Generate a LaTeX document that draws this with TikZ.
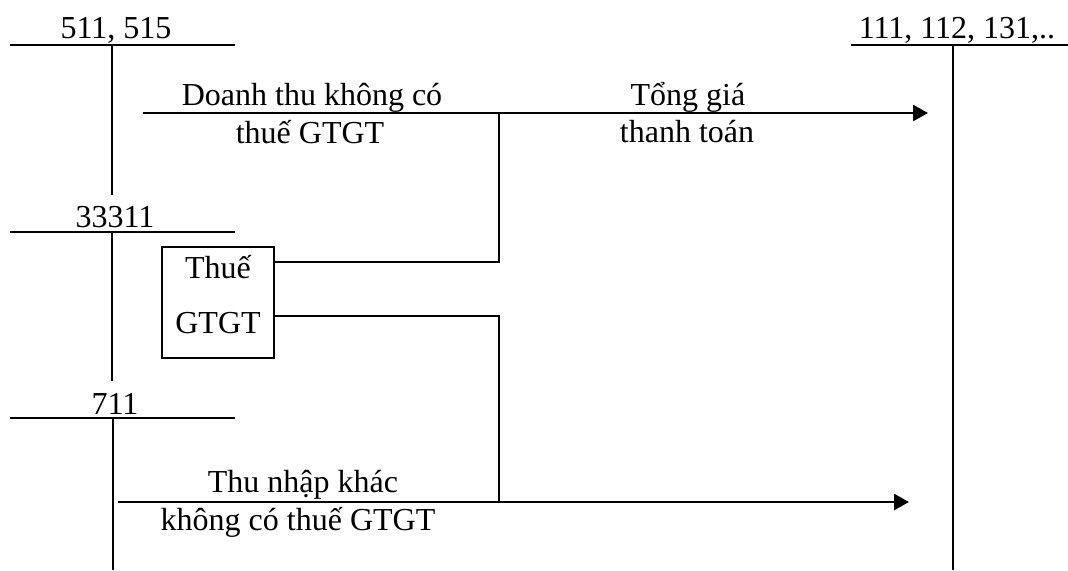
\documentclass[tikz,border=0pt]{standalone}
\usepackage{fontspec}
\setmainfont{Liberation Serif}
\usetikzlibrary{arrows.meta}
\tikzset{
  txt/.style={anchor=base, inner sep=0pt, font=\fontsize{16}{19}\selectfont},
  acct/.style={line width=1pt},
  conn/.style={line width=1pt},
  flow/.style={line width=1.3pt, -{Triangle[length=7.5pt,width=8pt]}},
  taxbox/.style={draw, line width=1pt, minimum width=56pt, minimum height=55.5pt, inner sep=0pt}
}
\begin{document}
\begin{tikzpicture}[x=0.5pt,y=-0.5pt]
\useasboundingbox (0,0) rectangle (1068,570);
% account 511, 515
\coordinate (a1L) at (10,45); \coordinate (a1R) at (235,45);
\coordinate (a1T) at (112,45); \coordinate (a1B) at (112,195);
\draw[acct] (a1L) -- (a1R); \draw[acct] (a1T) -- (a1B);
\node[txt] (l1) at (116,38) {511, 515};
% account 111, 112, 131
\coordinate (a2L) at (851,45); \coordinate (a2R) at (1068,45);
\coordinate (a2T) at (953,45); \coordinate (a2B) at (953,570);
\draw[acct] (a2L) -- (a2R); \draw[acct] (a2T) -- (a2B);
\node[txt] (l2) at (957,38) {111, 112, 131,..};
% account 33311
\coordinate (a3L) at (10,232); \coordinate (a3R) at (235,232);
\coordinate (a3T) at (112,232); \coordinate (a3B) at (112,381);
\draw[acct] (a3L) -- (a3R); \draw[acct] (a3T) -- (a3B);
\node[txt] (l3) at (115,227) {33311};
% account 711
\coordinate (a4L) at (10,418); \coordinate (a4R) at (235,418);
\coordinate (a4T) at (113,418); \coordinate (a4B) at (113,570);
\draw[acct] (a4L) -- (a4R); \draw[acct] (a4T) -- (a4B);
\node[txt] (l4) at (115,414) {711};
% tax box
\node[taxbox] (box) at (218,302.5) {};
\node[txt] (t1) at (218,278) {Thuế};
\node[txt] (t2) at (218,333) {GTGT};
% flows
\coordinate (s1) at (143,113); \coordinate (e1) at (928,113);
\coordinate (s2) at (118,502); \coordinate (e2) at (909,502);
\coordinate (j1) at (499,113); \coordinate (j2) at (499,502);
\coordinate (b1) at (274,262); \coordinate (b2) at (274,316);
\draw[flow] (s1) -- (e1);
\draw[flow] (s2) -- (e2);
\draw[conn] (b1) -| (j1);
\draw[conn] (b2) -| (j2);
% labels
\node[txt] (d1) at (312,105) {Doanh thu không có};
\node[txt] (d2) at (310,143) {thuế GTGT};
\node[txt] (g1) at (688,105) {Tổng giá};
\node[txt] (g2) at (687,142) {thanh toán};
\node[txt] (k1) at (303,492) {Thu nhập khác};
\node[txt] (k2) at (298,530) {không có thuế GTGT};
\end{tikzpicture}
\end{document}
